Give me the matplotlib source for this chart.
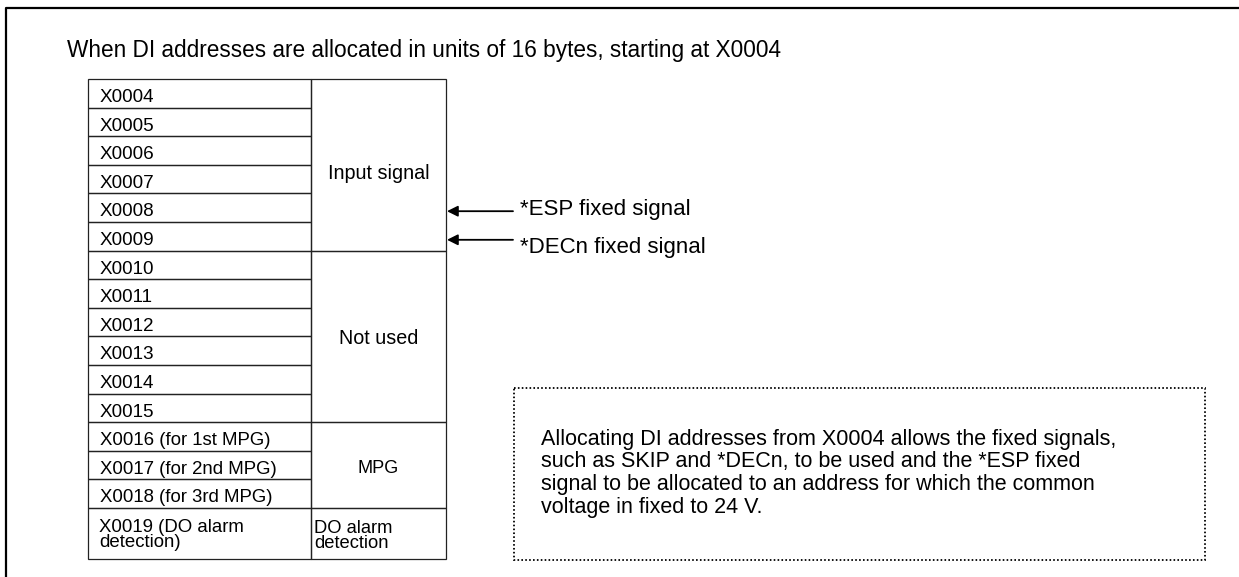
import matplotlib
matplotlib.use("Agg")
import matplotlib.pyplot as plt
from matplotlib.patches import Rectangle

plt.rcParams['font.family'] = ['Liberation Sans', 'DejaVu Sans']

title = "When DI addresses are allocated in units of 16 bytes, starting at X0004"
row_labels = ["X0004", "X0005", "X0006", "X0007", "X0008", "X0009",
              "X0010", "X0011", "X0012", "X0013", "X0014", "X0015",
              "X0016 (for 1st MPG)", "X0017 (for 2nd MPG)", "X0018 (for 3rd MPG)",
              "X0019 (DO alarm\ndetection)"]
group_labels = ["Input signal", "Not used", "MPG", "DO alarm\ndetection"]
group_sizes = [6, 6, 3, 1]
signal_labels = ["*ESP fixed signal", "*DECn fixed signal"]
signal_rows = [4, 5]
note_lines = ["Allocating DI addresses from X0004 allows the fixed signals,",
              "such as SKIP and *DECn, to be used and the *ESP fixed",
              "signal to be allocated to an address for which the common",
              "voltage in fixed to 24 V."]

W, H = 1239, 577
fig = plt.figure(figsize=(W / 100, H / 100), dpi=100)
ax = fig.add_axes([0, 0, 1, 1])
ax.set_xlim(0, W)
ax.set_ylim(H, 0)
ax.axis('off')

# outer frame (open to the right and bottom)
ax.plot([6, 6, W + 5], [H + 5, 8, 8], color='black', lw=1.6, solid_capstyle='projecting')

ax.text(67, 57, title, fontsize=16.3, va='baseline', ha='left')

# table geometry
x0, xm, x1 = 88, 311, 446
top = 79
rh = 28.6
last_h = 51
heights = [rh] * (len(row_labels) - 1) + [last_h]
lc = '#222222'
lw = 0.9

ys = [top]
for h in heights:
    ys.append(ys[-1] + h)

for i, lab in enumerate(row_labels):
    ya, yb = ys[i], ys[i + 1]
    ax.add_patch(Rectangle((x0, ya), xm - x0, yb - ya, fill=False, ec=lc, lw=lw))
    fs = 13.6 if i < 12 else 13.4
    lines = lab.split('\n')
    if len(lines) == 1:
        ax.text(x0 + 12, ya + 23, lab, fontsize=fs, va='baseline', ha='left')
    else:
        for k, ln in enumerate(lines):
            ax.text(x0 + 11, ya + 23.5 + 15 * k, ln, fontsize=fs, va='baseline', ha='left')

start = 0
for g, n in zip(group_labels, group_sizes):
    ya, yb = ys[start], ys[start + n]
    ax.add_patch(Rectangle((xm, ya), x1 - xm, yb - ya, fill=False, ec=lc, lw=lw))
    lines = g.split('\n')
    if len(lines) > 1:
        for k, ln in enumerate(lines):
            ax.text(xm + 3, ya + 25 + 15 * k, ln, fontsize=13.2, va='baseline', ha='left')
    else:
        fs = 14.2 if start < 12 else 13.1
        off = 14 if start == 0 else 8
        ax.text((xm + x1) / 2, (ya + yb) / 2 + off, g, fontsize=fs,
                va='baseline', ha='center')
    start += n

# arrows for fixed signals
text_off = [4, 13]
for lab, r, to in zip(signal_labels, signal_rows, text_off):
    y = (ys[r] + ys[r + 1]) / 2 + 3.5
    ax.annotate('', xy=(x1 + 1, y), xytext=(513, y),
                arrowprops=dict(arrowstyle='-|>', color='black', lw=1.3,
                                mutation_scale=16, shrinkA=0, shrinkB=0))
    ax.text(520, y + to, lab, fontsize=16, va='baseline', ha='left')

# dotted note box
ax.add_patch(Rectangle((514, 388), 1205 - 514, 560 - 388, fill=False, ec='black',
                       lw=1.3, ls=(0, (0.9, 1.25))))
for k, ln in enumerate(note_lines):
    ax.text(541, 444.5 + 22.7 * k, ln, fontsize=15.5, va='baseline', ha='left')

fig.savefig('out.png', dpi=100)
